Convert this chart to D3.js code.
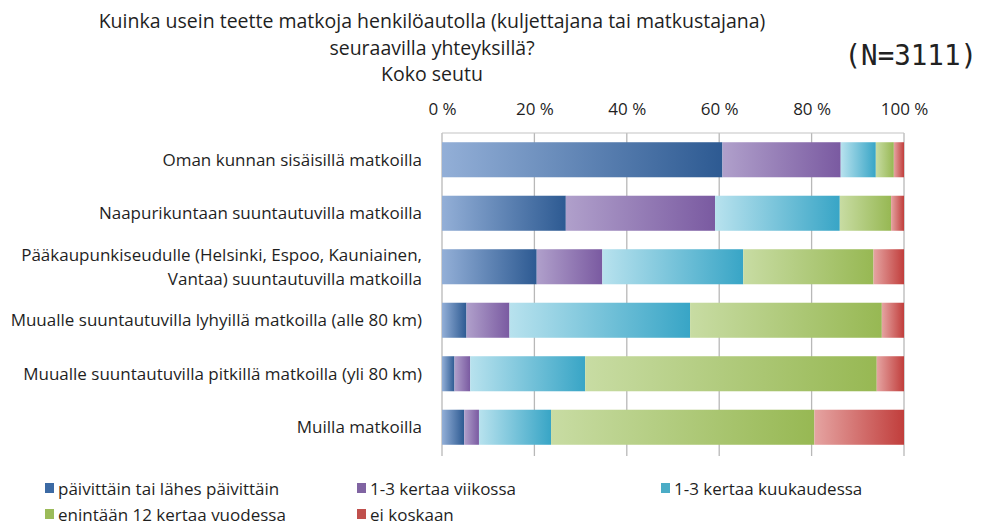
<!DOCTYPE html>
<html>
<head>
<meta charset="utf-8">
<script src="https://cdn.jsdelivr.net/npm/d3@7"></script>
<style>
  html, body { margin: 0; padding: 0; background: #fff; }
  svg { display: block; }
  text { font-family: "Open Sans", "Noto Sans", sans-serif; fill: #1f1f1f; }
</style>
</head>
<body>
<svg id="chart" width="985" height="526"></svg>
<script>
// Trip categories (top to bottom)
const categories = [
  ["Oman kunnan sisäisillä matkoilla"],
  ["Naapurikuntaan suuntautuvilla matkoilla"],
  ["Pääkaupunkiseudulle (Helsinki, Espoo, Kauniainen,", "Vantaa) suuntautuvilla matkoilla"],
  ["Muualle suuntautuvilla lyhyillä matkoilla (alle 80 km)"],
  ["Muualle suuntautuvilla pitkillä matkoilla (yli 80 km)"],
  ["Muilla matkoilla"]
];

// Frequency answers (stack order, left to right)
const seriesNames = [
  "päivittäin tai lähes päivittäin",
  "1-3 kertaa viikossa",
  "1-3 kertaa kuukaudessa",
  "enintään 12 kertaa vuodessa",
  "ei koskaan"
];

// Share of respondents (%) per category, one array per answer
const daily   = [60.7, 26.8, 20.5,  5.3,  2.7,  4.8];
const weekly  = [25.6, 32.3, 14.2,  9.3,  3.4,  3.2];
const monthly = [ 7.6, 27.0, 30.5, 39.1, 24.9, 15.6];
const yearly  = [ 3.9, 11.1, 28.2, 41.5, 63.1, 57.0];
const never   = [ 2.2,  2.8,  6.6,  4.8,  5.9, 19.4];
const seriesValues = [daily, weekly, monthly, yearly, never];

const tickValues = [0, 20, 40, 60, 80, 100];
const titleLines = [
  "Kuinka usein teette matkoja henkilöautolla (kuljettajana tai matkustajana)",
  "seuraavilla yhteyksillä?",
  "Koko seutu"
];
const sampleNote = "(N=3111)";

// Gradient stops per series: light on the left, saturated on the right
const gradStops = [
  ["#93afd7", "#2d5a92"],
  ["#b0a0cb", "#7a5aa1"],
  ["#b8e2ee", "#38a5c6"],
  ["#c8dca3", "#97b853"],
  ["#e5a4a2", "#c13e3c"]
];
const legendColors = ["#3c6aa4", "#8064a2", "#4bacc6", "#9bbb59", "#c0504d"];

const svg = d3.select("#chart");
const defs = svg.append("defs");
gradStops.forEach((s, i) => {
  const g = defs.append("linearGradient")
    .attr("id", "grad" + i)
    .attr("x1", 0).attr("x2", 1).attr("y1", 0).attr("y2", 0);
  g.append("stop").attr("offset", "0%").attr("stop-color", s[0]);
  g.append("stop").attr("offset", "100%").attr("stop-color", s[1]);
});

const plot = { left: 442, right: 904, top: 133, bottom: 454 };

const x = d3.scaleLinear().domain([0, 100]).range([plot.left, plot.right]);
const y = d3.scaleBand()
  .domain(d3.range(categories.length))
  .range([plot.top, plot.bottom])
  .paddingInner(0.345)
  .paddingOuter(0.1725);

// Title
const title = svg.append("g");
titleLines.forEach((t, i) => {
  title.append("text")
    .attr("x", 432).attr("y", 28 + i * 26.5)
    .attr("text-anchor", "middle")
    .style("font-size", "19.5px")
    .text(t);
});
svg.append("text")
  .attr("x", 977).attr("y", 65)
  .attr("text-anchor", "end")
  .style("font-family", "'DejaVu Sans Mono', 'Liberation Mono', monospace")
  .style("font-size", "27.5px")
  .style("fill", "#222")
  .text(sampleNote);

// Gridlines
svg.append("g")
  .selectAll("line")
  .data(tickValues)
  .join("line")
  .attr("x1", d => x(d)).attr("x2", d => x(d))
  .attr("y1", plot.top).attr("y2", plot.bottom + 2)
  .attr("stroke", "#b8b8b8").attr("stroke-width", 1.3);

// Top frame line
svg.append("line")
  .attr("x1", plot.left).attr("x2", plot.right)
  .attr("y1", plot.top).attr("y2", plot.top)
  .attr("stroke", "#c4c4c4").attr("stroke-width", 1.2);

// Top axis labels
const xAxis = d3.axisTop(x).tickValues(tickValues).tickSize(0).tickPadding(0)
  .tickFormat(d => d + " %");
const xg = svg.append("g").attr("transform", `translate(0,${plot.top - 18})`).call(xAxis);
xg.select(".domain").remove();
xg.selectAll("text")
  .style("font-family", "'Open Sans', sans-serif")
  .style("font-size", "17px")
  .style("fill", "#1f1f1f");

// Stacked segments
const stacked = categories.map((c, ci) => {
  let acc = 0;
  return seriesValues.map((vals, si) => {
    const seg = { ci, si, x0: acc, x1: acc + vals[ci] };
    acc += vals[ci];
    return seg;
  });
}).flat();

svg.append("g")
  .selectAll("rect")
  .data(stacked)
  .join("rect")
  .attr("x", d => x(d.x0))
  .attr("width", d => x(d.x1) - x(d.x0))
  .attr("y", d => y(d.ci))
  .attr("height", y.bandwidth())
  .attr("fill", d => `url(#grad${d.si})`);

// Category labels
const yLab = svg.append("g");
categories.forEach((lines, i) => {
  const cy = y(i) + y.bandwidth() / 2;
  const lh = 24;
  const t = yLab.append("text")
    .attr("text-anchor", "end")
    .style("font-size", "17px");
  lines.forEach((l, j) => {
    t.append("tspan")
      .attr("x", 422)
      .attr("y", cy + 6 + (j - (lines.length - 1) / 2) * lh)
      .text(l);
  });
});

// Legend
const legendPos = [
  [45, 495], [357, 495], [661, 495],
  [45, 521], [357, 521]
];
const lg = svg.append("g");
seriesNames.forEach((name, i) => {
  const [lx, ly] = legendPos[i];
  lg.append("rect")
    .attr("x", lx).attr("y", ly - 12)
    .attr("width", 9).attr("height", 10)
    .attr("fill", legendColors[i]);
  lg.append("text")
    .attr("x", lx + 13).attr("y", ly)
    .style("font-size", "17px")
    .text(name);
});
</script>
</body>
</html>
